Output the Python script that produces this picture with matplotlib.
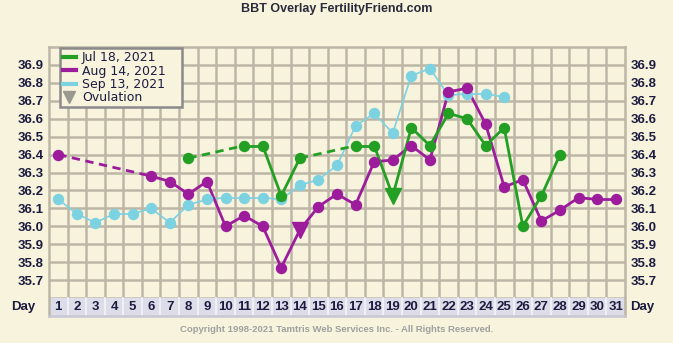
import numpy as np
import matplotlib.pyplot as plt
from matplotlib.lines import Line2D

# chart data
days = np.arange(1, 32)
jul_days = [8, 11, 12, 13, 14, 17, 18, 19, 20, 21, 22, 23, 24, 25, 26, 27, 28]
jul_temp = [36.38, 36.45, 36.45, 36.17, 36.38, 36.45, 36.45, 36.17, 36.55, 36.45,
            36.63, 36.60, 36.45, 36.55, 36.00, 36.17, 36.40]
jul_ovul = 19

aug_days = [1, 6, 7, 8, 9, 10, 11, 12, 13, 14, 15, 16, 17, 18, 19, 20, 21, 22, 23,
            24, 25, 26, 27, 28, 29, 30, 31]
aug_temp = [36.40, 36.28, 36.25, 36.18, 36.25, 36.00, 36.06, 36.00, 35.77, 35.98,
            36.11, 36.18, 36.12, 36.36, 36.37, 36.45, 36.37, 36.75, 36.77, 36.57,
            36.22, 36.26, 36.03, 36.09, 36.16, 36.15, 36.15]
aug_ovul = 14

sep_days = list(range(1, 26))
sep_temp = [36.15, 36.07, 36.02, 36.07, 36.07, 36.10, 36.02, 36.12, 36.15, 36.16,
            36.16, 36.16, 36.15, 36.23, 36.26, 36.34, 36.56, 36.63, 36.52, 36.84,
            36.88, 36.73, 36.74, 36.74, 36.72]

yticks = [35.7, 35.8, 35.9, 36.0, 36.1, 36.2, 36.3, 36.4, 36.5, 36.6, 36.7, 36.8, 36.9]
labels = ["Jul 18, 2021", "Aug 14, 2021", "Sep 13, 2021", "Ovulation"]

BG = "#f8f3dd"
GRID = "#bdb6a6"
NAVY = "#1c1c40"
GREEN = "#23a023"
PURPLE = "#9c1c9c"
CYAN = "#7dd2e2"


def draw_series(ax, d, t, color, lw, ovul=None, ms=7.2):
    # solid between consecutive days, dashed across gaps
    for i in range(len(d) - 1):
        ls = "-" if d[i + 1] - d[i] == 1 else (0, (3, 2))
        ax.plot(d[i:i + 2], t[i:i + 2], color=color, lw=lw, ls=ls, zorder=3)
    for x, y in zip(d, t):
        if x == ovul:
            ax.plot(x, y, marker="v", ms=11, color=color, zorder=4)
        else:
            ax.plot(x, y, marker="o", ms=ms, color=color, mec=color, zorder=4)


fig = plt.figure(figsize=(6.73, 3.43), dpi=100, facecolor=BG)
ax = fig.add_axes([49 / 673, 27 / 343, 576 / 673, 269 / 343])
ax.set_facecolor(BG)
ax.set_xlim(0.5, 31.5)
ax.set_ylim(35.5, 37.0)

# grid
for y in np.arange(35.6, 36.95, 0.1):
    ax.axhline(y, color=GRID, lw=1.8, zorder=1)
for x in np.arange(1.5, 31.5, 1):
    ax.plot([x, x], [35.6, 37.0], color=GRID, lw=1.8, zorder=1)
    ax.plot([x, x], [35.5, 35.6], color="#f4f4f8", lw=1.2, zorder=2)
ax.axhspan(35.5, 35.6, color="#dcdde8", zorder=1)

for s in ax.spines.values():
    s.set_color(GRID)
    s.set_linewidth(1.8)
ax.spines["bottom"].set_color("#c8c8d4")

ax.set_xticks([])
ax.set_yticks(yticks)
ax.set_yticklabels([f"{v:.1f}" for v in yticks])
ax.tick_params(axis="y", length=0, pad=4, labelright=True, labelleft=True,
               labelsize=9.5, labelcolor=NAVY)
for lab in ax.get_yticklabels():
    lab.set_fontweight("bold")
    lab.set_family("Liberation Sans")

for d in days:
    ax.text(d, 35.55, str(d), ha="center", va="center", fontsize=9.5,
            fontweight="bold", color=NAVY, family="Liberation Sans")
ax.text(-0.25, 35.55, "Day", ha="right", va="center", fontsize=9.5,
        fontweight="bold", color=NAVY, family="Liberation Sans")
ax.text(31.75, 35.55, "Day", ha="left", va="center", fontsize=9.5,
        fontweight="bold", color=NAVY, family="Liberation Sans")

draw_series(ax, sep_days, sep_temp, CYAN, 1.2)
draw_series(ax, aug_days, aug_temp, PURPLE, 2.0, aug_ovul)
draw_series(ax, jul_days, jul_temp, GREEN, 2.0, jul_ovul)

handles = [Line2D([], [], color=GREEN, lw=3),
           Line2D([], [], color=PURPLE, lw=3),
           Line2D([], [], color=CYAN, lw=3),
           Line2D([], [], color="#999990", marker="v", ls="", ms=8)]
leg = ax.legend(handles, labels, loc="upper left",
                bbox_to_anchor=(11 / 576, 0.0, 122 / 576, 0.995), mode="expand",
                frameon=True, fancybox=False, fontsize=9, handlelength=1.0,
                handletextpad=0.5, labelspacing=0.02, borderpad=0.25,
                borderaxespad=0)
leg.get_frame().set_edgecolor("#8a8a8a")
leg.get_frame().set_linewidth(1.8)
leg.get_frame().set_facecolor(BG)
leg.get_frame().set_alpha(1)
for t in leg.get_texts():
    t.set_color(NAVY)
leg.set_zorder(5)

fig.text(0.5, 0.975, "BBT Overlay FertilityFriend.com", ha="center", va="center",
         fontsize=9, fontweight="bold", color="#2a2a3a", family="Liberation Sans")
fig.text(0.5, 0.038, "Copyright 1998-2021 Tamtris Web Services Inc. - All Rights Reserved.",
         ha="center", va="center", fontsize=6.8, fontweight="bold", color="#a0a0a0",
         family="Liberation Sans")

fig.savefig("out.png", dpi=100, facecolor=BG)
